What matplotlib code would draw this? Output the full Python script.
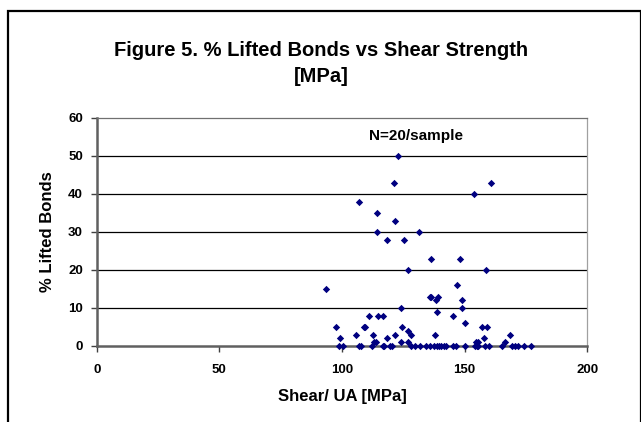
import matplotlib
matplotlib.use("Agg")
import matplotlib.pyplot as plt
from matplotlib.patches import Rectangle

plt.rcParams['font.family'] = ['Liberation Sans', 'DejaVu Sans']
plt.rcParams['font.weight'] = 'bold'

# points: shear strength [MPa] and % lifted bonds
shear_nonzero = [93.5, 97.7, 99.2, 105.6, 106.9, 109.0, 109.4, 111.1, 112.5, 112.9,
                 113.7, 114.1, 114.4, 114.8, 116.8, 118.2, 118.5, 121.3, 121.6, 121.6,
                 122.9, 123.9, 124.0, 124.6, 125.4, 126.9, 127.0, 127.0, 128.1, 131.5,
                 135.7, 136.1, 136.3, 138.0, 138.2, 138.6, 139.1, 145.1, 146.9, 148.0,
                 149.0, 149.0, 150.0, 153.8, 154.6, 155.4, 157.0, 158.0, 158.7, 159.2,
                 160.7, 166.3, 168.6]
lifted_nonzero = [15, 5, 2, 3, 38, 5, 5, 8, 3, 1,
                  1, 35, 30, 8, 8, 2, 28, 43, 33, 3,
                  50, 10, 1, 5, 28, 4, 20, 1, 3, 30,
                  13, 13, 23, 3, 12, 9, 13, 8, 16, 23,
                  12, 10, 6, 40, 1, 1, 5, 2, 20, 5,
                  43, 1, 3]
shear_zero = [98.8, 100.5, 106.9, 107.6, 112.1, 116.6, 117.1, 119.6, 120.3, 128.1,
              129.7, 131.8, 134.1, 135.9, 137.5, 138.6, 139.6, 140.5, 141.5, 142.3,
              145.3, 146.5, 150.1, 154.2, 154.9, 155.6, 158.4, 159.9, 165.2, 169.3,
              170.6, 171.9, 174.3, 177.2]
lifted_zero = [0] * len(shear_zero)

shear = shear_nonzero + shear_zero
lifted = lifted_nonzero + lifted_zero

x_ticks = [0, 50, 100, 150, 200]
y_ticks = [0, 10, 20, 30, 40, 50, 60]

W, H = 641, 422
fig = plt.figure(figsize=(W / 100, H / 100), dpi=100)
fig.patch.set_facecolor("white")

# outer chart frame (runs off the bottom of the picture)
fig.patches.append(Rectangle((7.5 / W, -0.2), (641 - 7.5) / W, 1 - 11 / H + 0.2,
                             transform=fig.transFigure, fill=False,
                             edgecolor="black", linewidth=1.6))

ax = fig.add_axes([96.7 / W, 1 - 346 / H, (587.3 - 96.7) / W, (346 - 118) / H])

ax.scatter(shear, lifted, marker="D", s=14, color="#000080", zorder=3,
           linewidths=0, clip_on=False)

ax.set_xlim(0, 200)
ax.set_ylim(0, 60)
ax.set_xticks(x_ticks)
ax.set_yticks(y_ticks)
ax.set_xticklabels([str(v) for v in x_ticks])
ax.set_yticklabels([str(v) for v in y_ticks])

for v in y_ticks[1:-1]:
    ax.axhline(v, color="black", linewidth=0.9, zorder=1)

ax.spines["left"].set_color("#606060")
ax.spines["left"].set_linewidth(1.8)
ax.spines["bottom"].set_color("#606060")
ax.spines["bottom"].set_linewidth(1.8)
ax.spines["top"].set_color("#707070")
ax.spines["top"].set_linewidth(0.9)
ax.spines["right"].set_color("#a0a0a0")
ax.spines["right"].set_linewidth(0.9)

ax.tick_params(axis="x", direction="out", length=4, width=1, color="#404040",
               labelsize=9.5, pad=9)
ax.tick_params(axis="y", direction="out", length=4, width=1, color="#404040",
               labelsize=9.5, pad=6)

ax.set_xlabel("Shear/ UA [MPa]", fontsize=12, fontweight="bold", labelpad=9)
ax.set_ylabel("% Lifted Bonds", fontsize=12, fontweight="bold", labelpad=9)

ax.text(111, 55.3, "N=20/sample", fontsize=11, fontweight="bold",
        ha="left", va="center")

fig.text(321 / W, 1 - 50 / H, "Figure 5. % Lifted Bonds vs Shear Strength",
         fontsize=14.5, fontweight="bold", ha="center", va="center")
fig.text(321 / W, 1 - 76 / H, "[MPa]",
         fontsize=14.5, fontweight="bold", ha="center", va="center")

fig.savefig("out.png", dpi=100)
